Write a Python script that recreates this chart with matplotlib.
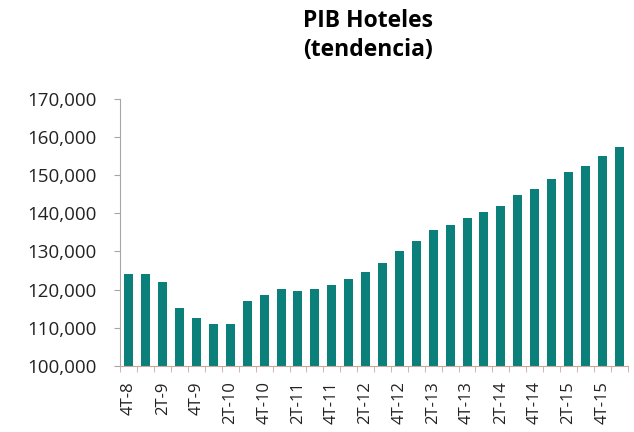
import numpy as np
import matplotlib.pyplot as plt
from matplotlib.ticker import FuncFormatter

# quarterly trend, 4T-8 .. 1T-16
quarters = ["4T-8"] + [f"{q}T-{y}" for y in range(9, 16) for q in range(1, 5)] + ["1T-16"]
values = [124000, 124000, 122000, 115300, 112500, 111100, 111100, 117100,
          118700, 120100, 119700, 120100, 121100, 122900, 124700, 127000,
          130100, 132800, 135600, 137000, 138900, 140300, 141900, 144700,
          146400, 148900, 150800, 152500, 155000, 157500]
yticks = list(range(100000, 170001, 10000))

plt.rcParams['font.family'] = ['Open Sans', 'DejaVu Sans']

fig = plt.figure(figsize=(6.34, 4.32), dpi=100)
ax = fig.add_axes([0.19, 0.153, 0.80, 0.618])

x = np.arange(len(values))
ax.bar(x, values, width=0.53, color="#0B7F7A", zorder=2)

ax.set_xlim(-0.5, len(values) - 0.5)
ax.set_ylim(100000, 170000)
ax.set_yticks(yticks)
ax.yaxis.set_major_formatter(FuncFormatter(lambda v, p: f"{int(v):,}"))
ax.tick_params(axis="y", length=4, color="#A6A6A6", labelsize=13.5, pad=13, labelcolor="#222222")

ax.set_xticks(x[::2])
ax.set_xticklabels(quarters[::2], rotation=90, fontsize=12, color="#222222")
ax.set_xticks(np.arange(-0.5, len(values)), minor=True)
ax.tick_params(axis="x", which="major", length=0, pad=11)
ax.tick_params(axis="x", which="minor", length=4, color="#C8A89A")

for s in ["top", "right"]:
    ax.spines[s].set_visible(False)
ax.spines["left"].set_color("#A6A6A6")
ax.spines["bottom"].set_color("#C8A89A")

fig.text(0.58, 0.918, "PIB Hoteles\n(tendencia)", ha="center", va="center",
         fontsize=16.5, fontweight="bold", linespacing=1.3)

fig.savefig("out.png", dpi=100)
